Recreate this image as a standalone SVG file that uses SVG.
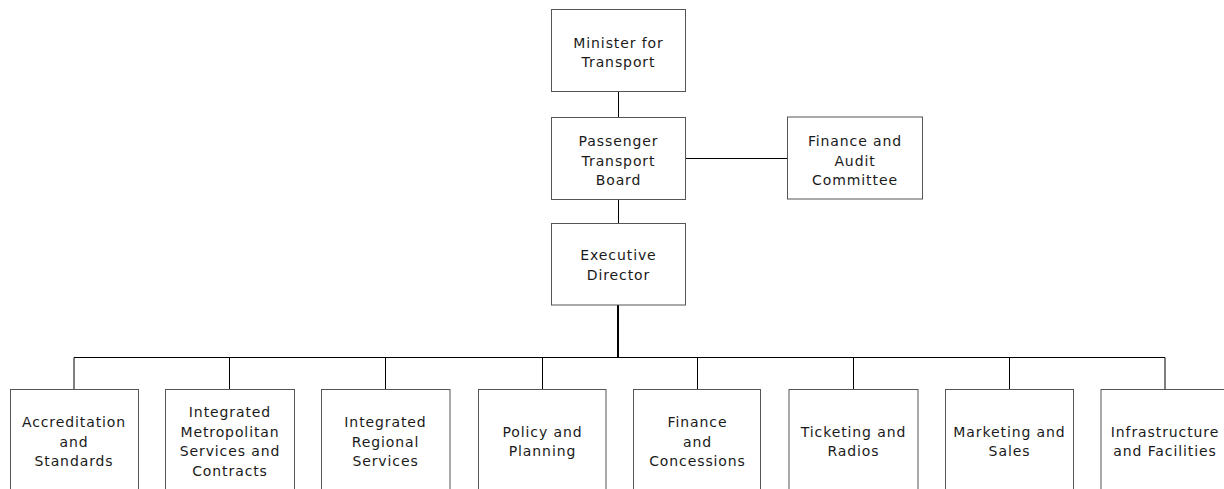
<svg xmlns="http://www.w3.org/2000/svg" width="1224" height="489" viewBox="0 0 1224 489">
<style>
.box{fill:#fff;stroke:#555;stroke-width:1}
.lbl{font-family:"DejaVu Sans",Verdana,sans-serif;font-size:14px;letter-spacing:0.9px;fill:#1a1a1a;text-anchor:middle}
.con{stroke:#000;stroke-width:1;fill:none}
.thick{stroke:#000;stroke-width:2;fill:none}
</style>
<rect width="1224" height="489" fill="#fff"/>
<g id="connectors">
<line class="con" x1="618.5" y1="91.5" x2="618.5" y2="117.5"/>
<line class="con" x1="618.5" y1="199.5" x2="618.5" y2="223.5"/>
<line class="con" x1="685.5" y1="158.5" x2="787.5" y2="158.5"/>
<line class="thick" x1="618" y1="305" x2="618" y2="357"/>
<line class="con" x1="74" y1="357.5" x2="1165" y2="357.5"/>
<line class="con" x1="74" y1="357.5" x2="74" y2="389.5"/>
<line class="con" x1="229.5" y1="357.5" x2="229.5" y2="389.5"/>
<line class="con" x1="385.5" y1="357.5" x2="385.5" y2="389.5"/>
<line class="con" x1="542.5" y1="357.5" x2="542.5" y2="389.5"/>
<line class="con" x1="697.5" y1="357.5" x2="697.5" y2="389.5"/>
<line class="con" x1="853.5" y1="357.5" x2="853.5" y2="389.5"/>
<line class="con" x1="1009.5" y1="357.5" x2="1009.5" y2="389.5"/>
<line class="con" x1="1165" y1="357.5" x2="1165" y2="389.5"/>
</g>
<g id="minister">
<rect class="box" x="551.5" y="9.5" width="134" height="82"/>
<text class="lbl" x="618.5" y="48">Minister for</text>
<text class="lbl" x="618.5" y="67">Transport</text>
</g>
<g id="board">
<rect class="box" x="551.5" y="117.5" width="134" height="82"/>
<text class="lbl" x="618.5" y="146">Passenger</text>
<text class="lbl" x="618.5" y="165.5">Transport</text>
<text class="lbl" x="618.5" y="185">Board</text>
</g>
<g id="audit">
<rect class="box" x="787.5" y="117" width="135" height="82"/>
<text class="lbl" x="855" y="146">Finance and</text>
<text class="lbl" x="855" y="165.5">Audit</text>
<text class="lbl" x="855" y="185">Committee</text>
</g>
<g id="executive">
<rect class="box" x="551.5" y="223.5" width="134" height="81.5"/>
<text class="lbl" x="618.5" y="260">Executive</text>
<text class="lbl" x="618.5" y="279.5">Director</text>
</g>
<g id="accreditation">
<rect class="box" x="10.5" y="389.5" width="128" height="110"/>
<text class="lbl" x="74" y="427">Accreditation</text>
<text class="lbl" x="74" y="446.5">and</text>
<text class="lbl" x="74" y="466">Standards</text>
</g>
<g id="metropolitan">
<rect class="box" x="165.5" y="389.5" width="129" height="110"/>
<text class="lbl" x="230" y="417">Integrated</text>
<text class="lbl" x="230" y="436.5">Metropolitan</text>
<text class="lbl" x="230" y="456">Services and</text>
<text class="lbl" x="230" y="475.5">Contracts</text>
</g>
<g id="regional">
<rect class="box" x="321.5" y="389.5" width="128.5" height="110"/>
<text class="lbl" x="385.5" y="427">Integrated</text>
<text class="lbl" x="385.5" y="446.5">Regional</text>
<text class="lbl" x="385.5" y="466">Services</text>
</g>
<g id="policy">
<rect class="box" x="478.5" y="389.5" width="127.5" height="110"/>
<text class="lbl" x="542.5" y="437">Policy and</text>
<text class="lbl" x="542.5" y="456">Planning</text>
</g>
<g id="finance">
<rect class="box" x="633.5" y="389.5" width="127" height="110"/>
<text class="lbl" x="697.5" y="427">Finance</text>
<text class="lbl" x="697.5" y="446.5">and</text>
<text class="lbl" x="697.5" y="466">Concessions</text>
</g>
<g id="ticketing">
<rect class="box" x="789" y="389.5" width="129" height="110"/>
<text class="lbl" x="853.5" y="437">Ticketing and</text>
<text class="lbl" x="853.5" y="456">Radios</text>
</g>
<g id="marketing">
<rect class="box" x="945.5" y="389.5" width="128" height="110"/>
<text class="lbl" x="1009.5" y="437">Marketing and</text>
<text class="lbl" x="1009.5" y="456">Sales</text>
</g>
<g id="infrastructure">
<rect class="box" x="1101" y="389.5" width="128" height="110"/>
<text class="lbl" x="1165" y="437">Infrastructure</text>
<text class="lbl" x="1165" y="456">and Facilities</text>
</g>
</svg>
